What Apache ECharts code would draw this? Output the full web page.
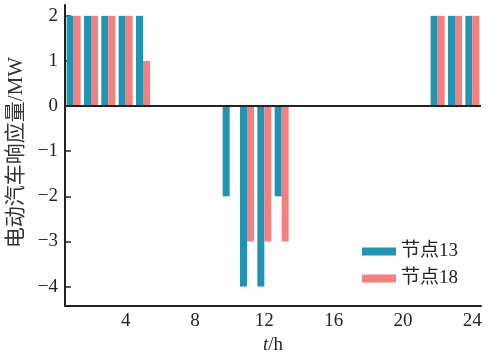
<!DOCTYPE html>
<html>
<head>
<meta charset="utf-8">
<script src="https://cdn.jsdelivr.net/npm/echarts@6/dist/echarts.min.js"></script>
<style>html,body{margin:0;padding:0;background:#fff}#c{width:488px;height:354px}</style>
</head>
<body>
<div id="c"></div>
<script>
var hours = ['1','2','3','4','5','6','7','8','9','10','11','12','13','14','15','16','17','18','19','20','21','22','23','24'];
var node13 = [2,2,2,2,2,0,0,0,0,-2,-4,-4,-2,0,0,0,0,0,0,0,0,2,2,2];
var node18 = [2,2,2,2,1,0,0,0,0,0,-3,-3,-3,0,0,0,0,0,0,0,0,2,2,2];
var yTicks = [-4,-3,-2,-1,0,1,2];
var seriesNames = ['节点13','节点18'];

var FONT = "'Liberation Serif','DejaVu Serif','Noto Sans CJK SC',serif";
var chart = echarts.init(document.getElementById('c'));
chart.setOption({
  animation: false,
  backgroundColor: '#fff',
  textStyle: {fontFamily: FONT},
  grid: {left: 65, right: 7, top: 5, bottom: 48, containLabel: false, outerBoundsMode: 'none'},
  legend: {
    orient: 'vertical', left: 357, top: 237,
    icon: 'rect', itemWidth: 34, itemHeight: 8, itemGap: 8, itemTextGap: 6,
    textStyle: {fontFamily: FONT, fontSize: 19, color: '#222'},
    data: seriesNames
  },
  xAxis: {
    type: 'category', data: hours, boundaryGap: true,
    axisLine: {onZero: false, lineStyle: {color: '#222', width: 2}},
    axisTick: {inside: true, length: 6, alignWithLabel: true,
      interval: function(i){return (i+1)%4===0;}, lineStyle: {color: '#222', width: 1.5}},
    axisLabel: {interval: function(i){return (i+1)%4===0;}, margin: 6,
      fontFamily: FONT, fontSize: 19, color: '#222'},
    splitLine: {show: false},
    name: '{i|t}/h', nameLocation: 'middle', nameGap: 27,
    nameTextStyle: {fontFamily: FONT, fontSize: 19, color: '#222',
      rich: {i: {fontFamily: FONT, fontSize: 19, fontStyle: 'italic', color: '#222'}}}
  },
  yAxis: {
    type: 'value', min: -4.43, max: 2.24,
    axisLine: {show: true, lineStyle: {color: '#222', width: 2}},
    axisTick: {show: true, inside: true, length: 6, customValues: yTicks, lineStyle: {color: '#222', width: 1.5}},
    axisLabel: {customValues: yTicks, margin: 7, fontFamily: FONT, fontSize: 19, color: '#222',
      formatter: function(v){ return v < 0 ? '\u2212' + Math.abs(v) : String(v); }},
    splitLine: {show: false},
    name: '电动汽车响应量/MW', nameLocation: 'middle', nameGap: 36, nameRotate: 90,
    nameTextStyle: {fontFamily: FONT, fontSize: 21, color: '#333', padding: [0, 0, 0, 6]}
  },
  series: [
    {name: seriesNames[0], type: 'bar', data: node13, barWidth: 7, barGap: '0%',
      itemStyle: {color: '#2094b0'},
      markLine: {silent: true, symbol: 'none', label: {show: false},
        lineStyle: {color: '#222', width: 2, type: 'solid'}, data: [{yAxis: 0}]}},
    {name: seriesNames[1], type: 'bar', data: node18, barWidth: 7, barGap: '0%',
      itemStyle: {color: '#f48080'}}
  ]
});
</script>
</body>
</html>
